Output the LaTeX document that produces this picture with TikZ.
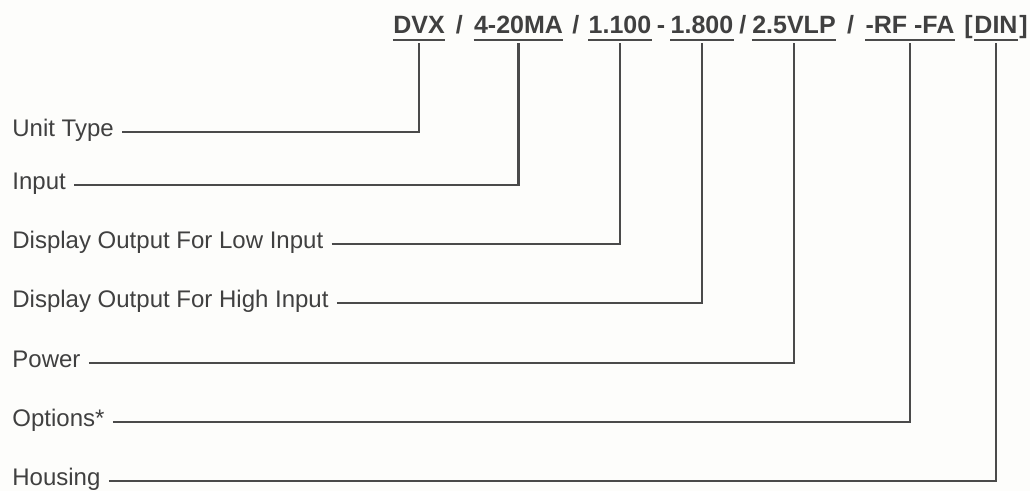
\documentclass[tikz,border=0pt]{standalone}
\usepackage{fontspec}
\setmainfont{Liberation Sans}
\usetikzlibrary{positioning,calc}
\definecolor{inkgray}{HTML}{404040}
\definecolor{linegray}{HTML}{4A4A4A}
\definecolor{paper}{HTML}{FDFDFB}

\begin{document}
\begin{tikzpicture}[x=0.5pt,y=-0.5pt,
    code/.style={font=\fontsize{12.5}{14}\selectfont\bfseries, text=inkgray, inner xsep=0pt, inner ysep=3pt, text depth=0pt, anchor=base},
    sep/.style={font=\fontsize{12.5}{14}\selectfont\bfseries, text=inkgray, inner sep=0pt, anchor=base},
    field/.style={font=\fontsize{12}{14}\selectfont, text=inkgray, inner xsep=4pt, inner ysep=0pt, anchor=base west},
    lead/.style={draw=linegray, line width=1.1pt}]
    \fill[paper] (0,0) rectangle (1030,491);
    \useasboundingbox (0,0) rectangle (1030,491);

    % model code
    \node[code] (dvx) at (419,34) {DVX};
    \node[code] (ma) at (518.5,34) {4-20MA};
    \node[code] (lo) at (620,34) {1.100};
    \node[code] (hi) at (702,34) {1.800};
    \node[code] (pwr) at (794,34) {2.5VLP};
    \node[code] (opt) at (910,34) {-RF -FA};
    \node[code] (din) at (996,34) {DIN};

    \node[sep] (s1) at ($(dvx.base east)!0.5!(ma.base west)$) {/};
    \node[sep] (s2) at ($(ma.base east)!0.5!(lo.base west)$) {/};
    \node[sep] (s3) at ($(lo.base east)!0.5!(hi.base west)$) {-};
    \node[sep] (s4) at ($(hi.base east)!0.5!(pwr.base west)$) {/};
    \node[sep] (s5) at ($(pwr.base east)!0.5!(opt.base west)$) {/};
    \node[sep, anchor=base east] (lb) at ([xshift=-0.5pt]din.base west) {[};
    \node[sep, anchor=base west] (rb) at ([xshift=0.5pt]din.base east) {]};

    % underlines
    \foreach \n in {dvx,ma,lo,hi,pwr,opt,din}
        \draw[lead] (\n.south west) -- (\n.south east);

    % fields
    \node[field] (unit) at (4,137) {Unit Type};
    \node[field] (input) at (4,190) {Input};
    \node[field] (low) at (4,249) {Display Output For Low Input};
    \node[field] (high) at (4,308) {Display Output For High Input};
    \node[field] (power) at (4,368) {Power};
    \node[field] (options) at (4,427) {Options*};
    \node[field] (housing) at (4,486) {Housing};

    \draw[lead] (unit.mid east) -| ([yshift=-1.5pt]dvx.south);
    \draw[lead] (input.mid east) -| ([yshift=-1.5pt]ma.south);
    \draw[lead] (low.mid east) -| ([yshift=-1.5pt]lo.south);
    \draw[lead] (high.mid east) -| ([yshift=-1.5pt]hi.south);
    \draw[lead] (power.mid east) -| ([yshift=-1.5pt]pwr.south);
    \draw[lead] (options.mid east) -| ([yshift=-1.5pt]opt.south);
    \draw[lead] (housing.mid east) -| ([yshift=-1.5pt]din.south);
\end{tikzpicture}
\end{document}
